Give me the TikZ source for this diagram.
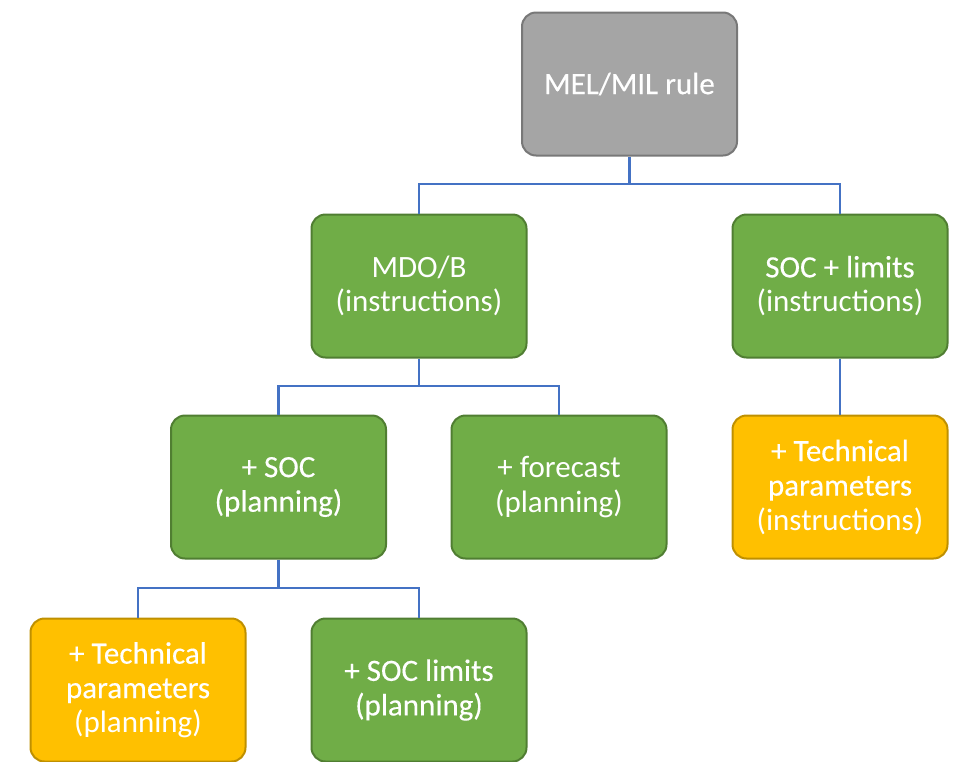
\documentclass[tikz,border=0pt]{standalone}
\usepackage{fontspec}
\setmainfont{Carlito}
\newfontfamily\regf[FakeBold=0.3]{Carlito}
\definecolor{gfill}{HTML}{70AD47}
\definecolor{gdraw}{HTML}{507E32}
\definecolor{yfill}{HTML}{FFC000}
\definecolor{ydraw}{HTML}{BF9000}
\definecolor{kfill}{HTML}{A5A5A5}
\definecolor{kdraw}{HTML}{787878}
\definecolor{conn}{HTML}{4472C4}
\tikzset{
  box/.style={rectangle, rounded corners=14pt, line width=2pt, minimum width=215pt, minimum height=143pt,
    text=white, align=center, font=\fontsize{31}{34.5}\selectfont, inner sep=0pt},
  greenbox/.style={box, fill=gfill, draw=gdraw},
  goldbox/.style={box, fill=yfill, draw=ydraw},
  graybox/.style={box, fill=kfill, draw=kdraw},
  link/.style={draw=conn, line width=2.2pt}
}
\begin{document}
\begin{tikzpicture}[x=1pt,y=-1pt]
\useasboundingbox (0,0) rectangle (958,761);
\node[graybox] (mel) at (629.5,84) {{\regf MEL/MIL rule}};
\node[greenbox] (mdo) at (419,286) {MDO/B\\(instructions)};
\node[greenbox] (socl) at (840,286) {{\regf SOC + limits}\\(instructions)};
\node[greenbox] (soc) at (278.5,487) {{\regf + SOC}\\{\regf (planning)}};
\node[greenbox] (fc) at (559,487) {+ forecast\\(planning)};
\node[goldbox] (tpi) at (840,487) {{\regf + Technical}\\{\regf parameters}\\(instructions)};
\node[goldbox] (tpp) at (138,690) {{\regf + Technical}\\{\regf parameters}\\(planning)};
\node[greenbox] (socp) at (419,690) {{\regf + SOC limits}\\{\regf (planning)}};
\draw[link] (mel.south) -- (mel.south |- 0,184) -| (mdo.north);
\draw[link] (mel.south |- 0,184) -| (socl.north);
\draw[link] (mdo.south) -- (mdo.south |- 0,386) -| (soc.north);
\draw[link] (mdo.south |- 0,386) -| (fc.north);
\draw[link] (socl.south) -- (tpi.north);
\draw[link] (soc.south) -- (soc.south |- 0,588) -| (tpp.north);
\draw[link] (soc.south |- 0,588) -| (socp.north);
\end{tikzpicture}
\end{document}
